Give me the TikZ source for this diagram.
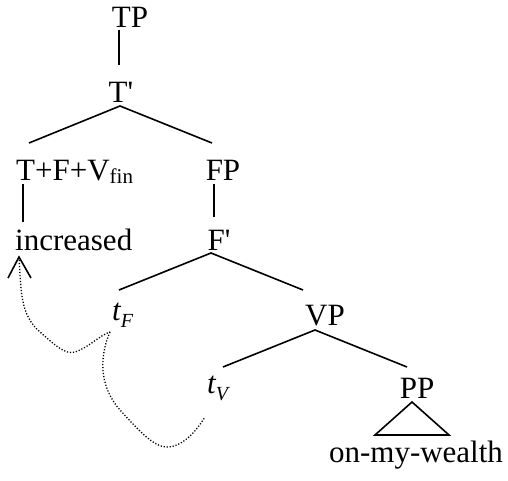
\documentclass[tikz,border=0pt]{standalone}
\usepackage{fontspec}
\setmainfont{Liberation Serif}
\usetikzlibrary{calc}
\begin{document}
\begin{tikzpicture}[x=1pt,y=-1pt,
  lbl/.style={anchor=base,inner sep=0pt,font=\fontsize{31}{35}\selectfont},
  branch/.style={line width=1.6pt},
  trace/.style={line width=1.3pt,dash pattern=on 1.2pt off 1.8pt},
  headline/.style={line width=1.6pt}]
\useasboundingbox (0,0) rectangle (508,481);
% nodes
\node[lbl] (TP) at (130,28) {TP};
\node[lbl] (Tbar) at (121,103) {T\textquotesingle};
\node[lbl,anchor=base west] (TFV) at (16,181) {T+F+V\raisebox{-2pt}{\fontsize{21}{21}\selectfont fin}};
\node[lbl] (FP) at (223,181) {FP};
\node[lbl,anchor=base west] (inc) at (15,250) {increased};
\node[lbl] (Fbar) at (219,250) {F\textquotesingle};
\node[lbl,anchor=base west] (tF) at (112,320) {\itshape t\raisebox{-7pt}{\fontsize{20}{20}\selectfont F}};
\node[lbl] (VP) at (325,325) {VP};
\node[lbl,anchor=base west] (tV) at (207,393) {\itshape t\raisebox{-7pt}{\fontsize{20}{20}\selectfont V}};
\node[lbl] (PP) at (417,398) {PP};
\node[lbl] (wealth) at (416,462) {on-my-wealth};
% attachment points
\coordinate (TPb) at (119,30);
\coordinate (Tt) at (119,65);
\coordinate (Tb) at (120,106);
\coordinate (TFVt) at (29,143);
\coordinate (FPt) at (212,143);
\coordinate (TFVb) at (23,184);
\coordinate (inct) at (23,222);
\coordinate (FPb) at (214,184);
\coordinate (Fbt) at (214,217);
\coordinate (Fbb) at (211,253);
\coordinate (tFt) at (119,290);
\coordinate (VPt) at (303,290);
\coordinate (VPb) at (315,330);
\coordinate (tVt) at (223,367);
\coordinate (PPt) at (407,367);
\coordinate (tri) at (412,402);
\coordinate (triL) at (375,435);
\coordinate (triR) at (449,435);
\coordinate (tip) at (19,257);
\coordinate (tFs) at (110,332);
\coordinate (tVs) at (205,417);
% branches
\draw[branch] (TPb) -- (Tt);
\draw[branch] (TFVt) -- (Tb) -- (FPt);
\draw[branch] (TFVb) -- (inct);
\draw[branch] (FPb) -- (Fbt);
\draw[branch] (tFt) -- (Fbb) -- (VPt);
\draw[branch] (tVt) -- (VPb) -- (PPt);
\draw[branch,line join=miter] (tri) -- (triL) -- (triR) -- cycle;
% movement traces
\draw[trace] (tip) .. controls (21,290) and (20,315) .. (40,332)
  .. controls (55,345) and (65,355) .. (75,352)
  .. controls (88,348) and (100,335) .. (tFs);
\draw[trace] (tFs) .. controls (100,355) and (98,385) .. (120,410)
  .. controls (140,432) and (155,448) .. (168,447)
  .. controls (185,446) and (198,428) .. (tVs);
\draw[headline] ($(tip)+(-11,21)$) -- (tip) -- ($(tip)+(12,21)$);
\end{tikzpicture}
\end{document}
